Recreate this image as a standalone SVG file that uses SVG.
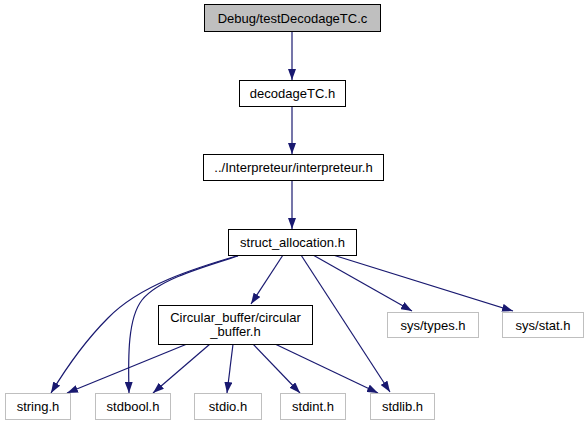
<svg xmlns="http://www.w3.org/2000/svg" width="587" height="425" viewBox="0 0 587 425">
<style>
.n rect{fill:#fff;stroke:#000;stroke-width:1}
.x rect{fill:#fff;stroke:#bfbfbf;stroke-width:1}
.r rect{fill:#bfbfbf;stroke:#000;stroke-width:1}
text{font-family:"Liberation Sans",Arial,sans-serif;font-size:13px;text-anchor:middle;fill:#000}
.e path{fill:none;stroke:#191970;stroke-width:1.2;marker-end:url(#a)}
</style>
<defs>
<marker id="a" markerWidth="11" markerHeight="8" refX="11" refY="4" orient="auto" markerUnits="userSpaceOnUse">
<path d="M0,0 L11,4 L0,8 z" fill="#191970"/>
</marker>
</defs>
<rect width="587" height="425" fill="#fff"/>
<g class="e">
<path d="M292,31 V80"/>
<path d="M292,106 V154"/>
<path d="M292,180 V229"/>
<path d="M283,255 L251,304"/>
<path d="M240,255 C195,268 140,285 108,318 C86,340 68,365 51,393"/>
<path d="M238,256 C200,268 158,280 142,300 C128,318 128,355 129,393"/>
<path d="M301,255 L390,392"/>
<path d="M313,255 L412,311"/>
<path d="M333,255 L513,311"/>
<path d="M187,344 L67,393"/>
<path d="M210,344 L153,393"/>
<path d="M233,344 L227,393"/>
<path d="M253,344 L300,393"/>
<path d="M275,344 L378,393"/>
</g>
<g id="node1" class="r"><rect x="204.5" y="4.5" width="176" height="27"/><text x="292.5" y="22.5">Debug/testDecodageTC.c</text></g>
<g id="node2" class="n"><rect x="239.5" y="80.5" width="106" height="26"/><text x="292.5" y="98">decodageTC.h</text></g>
<g id="node3" class="n"><rect x="203.5" y="154.5" width="180" height="26"/><text x="293.5" y="172">../Interpreteur/interpreteur.h</text></g>
<g id="node4" class="n"><rect x="228.5" y="229.5" width="128" height="26"/><text x="292.5" y="247">struct_allocation.h</text></g>
<g id="node5" class="n"><rect x="158.5" y="305.5" width="154" height="39"/><text x="235.5" y="322">Circular_buffer/circular</text><text x="235.5" y="336">_buffer.h</text></g>
<g id="node6" class="x"><rect x="5.5" y="393.5" width="65" height="26"/><text x="38" y="411">string.h</text></g>
<g id="node7" class="x"><rect x="95.5" y="393.5" width="75" height="26"/><text x="133" y="411">stdbool.h</text></g>
<g id="node8" class="x"><rect x="194.5" y="393.5" width="67" height="26"/><text x="228" y="411">stdio.h</text></g>
<g id="node9" class="x"><rect x="280.5" y="393.5" width="65" height="26"/><text x="313" y="411">stdint.h</text></g>
<g id="node10" class="x"><rect x="370.5" y="393.5" width="64" height="26"/><text x="402.5" y="411">stdlib.h</text></g>
<g id="node11" class="x"><rect x="387.5" y="312.5" width="91" height="25"/><text x="433" y="329.5">sys/types.h</text></g>
<g id="node12" class="x"><rect x="502.5" y="312.5" width="81" height="25"/><text x="543" y="329.5">sys/stat.h</text></g>
</svg>
